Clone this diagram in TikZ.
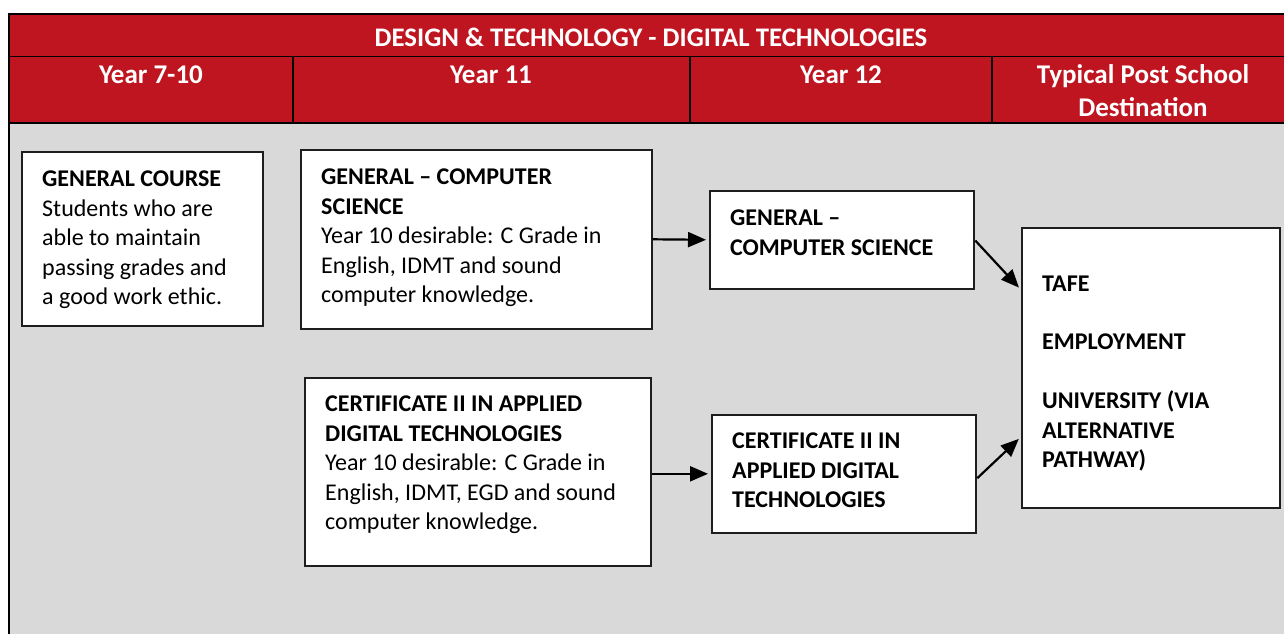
\documentclass[tikz,border=0pt]{standalone}
\usepackage{fontspec}
\setmainfont{Carlito}
\usetikzlibrary{arrows.meta}
\definecolor{hdrred}{RGB}{190,21,32}
\definecolor{bggray}{RGB}{217,217,217}
\definecolor{boxline}{RGB}{30,30,30}
\tikzset{
  box/.style={draw=boxline, line width=1.6pt, fill=white, inner sep=0pt, anchor=north west},
  txt/.style={anchor=north west, inner sep=0pt, align=left, font=\fontsize{24}{29.5}\selectfont},
  hdr/.style={text=white, font=\bfseries\fontsize{27}{33}\selectfont, align=center, inner sep=0pt},
  title/.style={text=white, font=\bfseries\fontsize{26.8}{30}\selectfont, inner sep=0pt},
  arr/.style={line width=2.2pt, -{Triangle[length=18pt,width=15pt]}, shorten >=3pt}
}
\begin{document}
\begin{tikzpicture}[x=1pt,y=-1pt]
\useasboundingbox (0,0) rectangle (1284,633);
% background and frame
\fill[bggray] (9,123) rectangle (1294,650);
\fill[hdrred] (9,14) rectangle (1294,123);
\draw[line width=1.8pt] (9,650) -- (9,14) -- (1294,14);
\draw[line width=1.8pt] (9,56.5) -- (1294,56.5);
\draw[line width=1.8pt] (9,123) -- (1294,123);
\draw[line width=1.8pt] (293,56.5) -- (293,123);
\draw[line width=1.8pt] (690,56.5) -- (690,123);
\draw[line width=1.8pt] (992,56.5) -- (992,123);
% header texts
\node[title] (t) at (651,37) {DESIGN \& TECHNOLOGY - DIGITAL TECHNOLOGIES};
\node[hdr, anchor=north] (h1) at (151,66) {Year 7-10};
\node[hdr, anchor=north] (h2) at (491,66) {Year 11};
\node[hdr, anchor=north] (h3) at (841,66) {Year 12};
\node[hdr, anchor=north] (h4) at (1143,64) {Typical Post School\\Destination};
% boxes
\node[box, minimum width=241pt, minimum height=174pt] (gc) at (21,151) {};
\node[box, minimum width=351pt, minimum height=179pt] (gcs11) at (300,149) {};
\node[box, minimum width=346pt, minimum height=188pt] (cert11) at (304,377) {};
\node[box, minimum width=264pt, minimum height=98pt] (gcs12) at (709,190) {};
\node[box, minimum width=264pt, minimum height=118pt] (cert12) at (711,414) {};
\node[box, minimum width=258pt, minimum height=280pt] (dest) at (1021,227) {};
% box texts
\node[txt] (gct) at (42,171) {\textbf{GENERAL COURSE}\\Students who are\\able to maintain\\passing grades and\\a good work ethic.};
\node[txt] (gcs11t) at (321,169) {\textbf{GENERAL – COMPUTER}\\\textbf{SCIENCE}\\Year 10 desirable: C Grade in\\English, IDMT and sound\\computer knowledge.};
\node[txt] (cert11t) at (325,396) {\textbf{CERTIFICATE II IN APPLIED}\\\textbf{DIGITAL TECHNOLOGIES}\\Year 10 desirable: C Grade in\\English, IDMT, EGD and sound\\computer knowledge.};
\node[txt, font=\bfseries\fontsize{24}{29.5}\selectfont] (gcs12t) at (730,210) {GENERAL –\\COMPUTER SCIENCE};
\node[txt, font=\bfseries\fontsize{24}{29.5}\selectfont] (cert12t) at (732,433) {CERTIFICATE II IN\\APPLIED DIGITAL\\TECHNOLOGIES};
\node[txt, font=\bfseries\fontsize{24}{29.5}\selectfont] (destt) at (1042,276) {TAFE\\[28pt]EMPLOYMENT\\[30pt]UNIVERSITY (VIA\\ALTERNATIVE\\PATHWAY)};
% arrows
\draw[arr] (gcs11.east) -- (gcs12.west);
\draw[arr] (cert11.east |- cert12.west) -- (cert12.west);
\draw[arr, shorten <=1pt] (gcs12.east) -- (dest.149);
\draw[arr, shorten <=1pt] ([yshift=-5pt]cert12.east) -- (dest.208);
\end{tikzpicture}
\end{document}
